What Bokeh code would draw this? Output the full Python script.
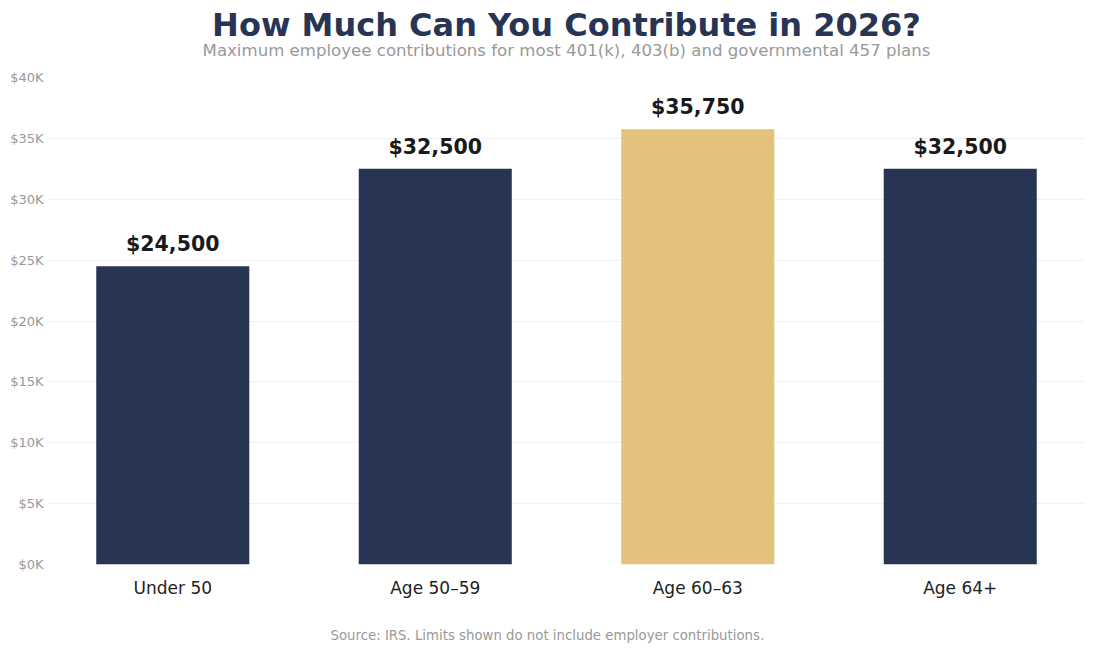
from bokeh.plotting import figure
from bokeh.models import ColumnDataSource, FactorRange, Range1d, FixedTicker, Title, LabelSet
from bokeh.core.properties import value
from bokeh.embed import file_html
from bokeh.resources import INLINE

categories = ["Under 50", "Age 50–59", "Age 60–63", "Age 64+"]
values = [24500, 32500, 35750, 32500]
value_labels = ["$24,500", "$32,500", "$35,750", "$32,500"]
bar_colors = ["#283454", "#283454", "#E5C27B", "#283454"]
y_ticks = [0, 5000, 10000, 15000, 20000, 25000, 30000, 35000, 40000]
y_tick_labels = ["$0K", "$5K", "$10K", "$15K", "$20K", "$25K", "$30K", "$35K", "$40K"]

FONT = "DejaVu Sans"

src = ColumnDataSource(dict(cat=categories, val=values, lab=value_labels, col=bar_colors))

p = figure(
    width=1086, height=644,
    x_range=FactorRange(*categories, range_padding=-0.0133, range_padding_units="percent"),
    y_range=Range1d(0, 40000),
    output_backend="svg", toolbar_location=None,
    min_border_left=48, min_border_right=2, min_border_top=0, min_border_bottom=0,
)
p.title = None

p.vbar(x="cat", top="val", width=0.583, color="col", source=src, line_color=None)

labels = LabelSet(x="cat", y="val", text="lab", source=src, text_align="center",
                  text_baseline="bottom", y_offset=10, text_font=value(FONT),
                  text_font_size="20.5px", text_font_style="bold", text_color="#1a1a1a")
p.add_layout(labels)

# --- below: spacer then source note
p.add_layout(Title(text=" ", text_font_size="1px", standoff=20.3), "below")
p.add_layout(Title(text="Source: IRS. Limits shown do not include employer contributions.",
                   align="left", offset=282, vertical_align="bottom",
                   text_font=FONT, text_font_size="13.3px",
                   text_font_style="normal", text_color="#999999", standoff=4), "below")

# --- above: spacer, subtitle, title (first added is nearest the plot)
p.add_layout(Title(text=" ", text_font_size="1px", standoff=23.3), "above")
p.add_layout(Title(text="Maximum employee contributions for most 401(k), 403(b) and governmental 457 plans",
                   align="center", text_font=FONT, text_font_size="16.6px",
                   text_font_style="normal", text_color="#999999", standoff=-17), "above")
p.add_layout(Title(text="How Much Can You Contribute in 2026?",
                   align="center", text_font=FONT, text_font_size="32px",
                   text_font_style="bold", text_color="#283454", standoff=7), "above")

# axes
p.yaxis.ticker = FixedTicker(ticks=y_ticks)
p.yaxis.major_label_overrides = {t: l for t, l in zip(y_ticks, y_tick_labels)}
p.yaxis.axis_line_color = None
p.yaxis.major_tick_line_color = None
p.yaxis.major_tick_out = 0
p.yaxis.major_tick_in = 0
p.yaxis.minor_tick_line_color = None
p.yaxis.major_label_text_font = FONT
p.yaxis.major_label_text_font_size = "13px"
p.yaxis.major_label_text_color = "#999999"
p.yaxis.major_label_standoff = 5

p.xaxis.axis_line_color = None
p.xaxis.major_tick_line_color = None
p.xaxis.minor_tick_line_color = None
p.xaxis.major_label_text_font = FONT
p.xaxis.major_label_text_font_size = "17px"
p.xaxis.major_label_text_color = "#222222"
p.xaxis.major_label_standoff = 7

p.xgrid.grid_line_color = None
p.ygrid.grid_line_color = "#f0f0f0"
p.outline_line_color = None
p.background_fill_color = "white"
p.border_fill_color = "white"

open("out.html", "w").write(file_html(p, INLINE))
